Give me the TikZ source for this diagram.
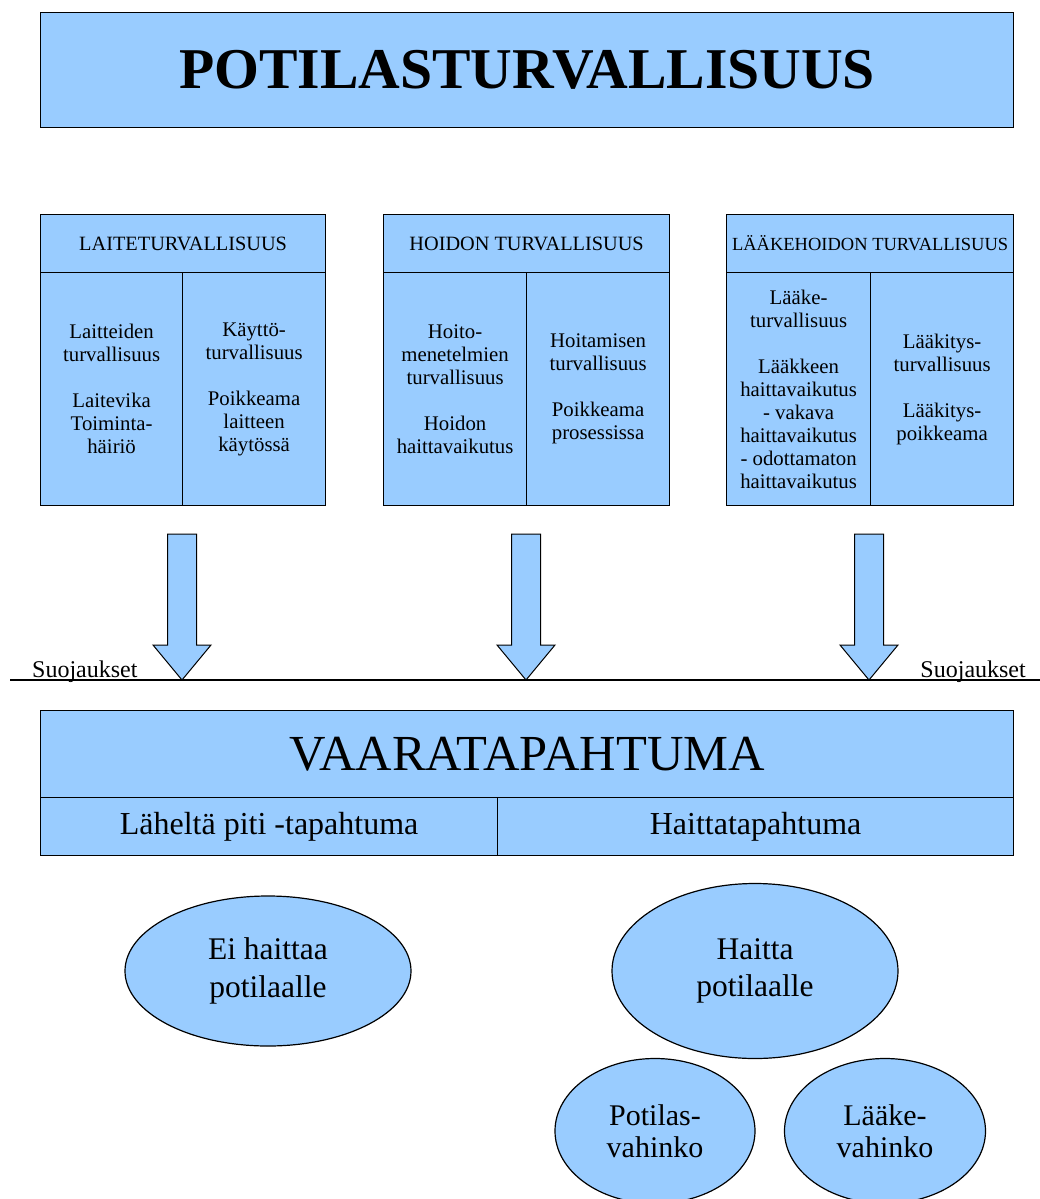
\documentclass[tikz,border=0pt]{standalone}
\usepackage{fontspec}
\setmainfont{Liberation Serif}
\usetikzlibrary{shapes.geometric}
\definecolor{boxblue}{HTML}{99CCFF}
\begin{document}
\begin{tikzpicture}[x=1pt,y=-1pt,
  cell/.style={draw=black,fill=boxblue,line width=1.2pt,inner sep=0pt,anchor=north west,align=center,
    font=\fontsize{20.8}{23}\selectfont},
  oval/.style={ellipse,draw=black,fill=boxblue,line width=1.2pt,inner sep=0pt,align=center,
    font=\fontsize{31.5}{37.5}\selectfont},
  blockarrow/.style={draw=black,fill=boxblue,line width=1pt,line join=miter},
  lbl/.style={font=\fontsize{24}{26}\selectfont,inner sep=0pt}]
\useasboundingbox (0,0) rectangle (1040,1199);
% title
\node[cell,minimum width=973pt,minimum height=115pt,font=\fontsize{57.7}{60}\selectfont\bfseries] (title) at (40,12) {POTILASTURVALLISUUS};
% box 1
\node[cell,minimum width=285pt,minimum height=58pt,font=\fontsize{20.3}{23}\selectfont] (h1) at (40,214) {LAITETURVALLISUUS};
\node[cell,minimum width=142pt,minimum height=233pt] (c1a) at (40,272) {Laitteiden\\turvallisuus\\[23pt]Laitevika\\Toiminta-\\häiriö};
\node[cell,minimum width=143pt,minimum height=233pt] (c1b) at (182,272) {Käyttö-\\turvallisuus\\[23pt]Poikkeama\\laitteen\\käytössä};
% box 2
\node[cell,minimum width=286pt,minimum height=58pt,font=\fontsize{20.3}{23}\selectfont] (h2) at (383,214) {HOIDON TURVALLISUUS};
\node[cell,minimum width=143pt,minimum height=233pt] (c2a) at (383,272) {Hoito-\\menetelmien\\turvallisuus\\[23pt]Hoidon\\haittavaikutus};
\node[cell,minimum width=143pt,minimum height=233pt] (c2b) at (526,272) {Hoitamisen\\turvallisuus\\[23pt]Poikkeama\\prosessissa};
% box 3
\node[cell,minimum width=287pt,minimum height=58pt,font=\fontsize{18.5}{23}\selectfont] (h3) at (726,214) {LÄÄKEHOIDON TURVALLISUUS};
\node[cell,minimum width=144pt,minimum height=233pt] (c3a) at (726,272) {Lääke-\\turvallisuus\\[23pt]Lääkkeen\\haittavaikutus\\- vakava\\haittavaikutus\\- odottamaton\\haittavaikutus};
\node[cell,minimum width=143pt,minimum height=233pt] (c3b) at (870,272) {Lääkitys-\\turvallisuus\\[23pt]Lääkitys-\\poikkeama};
% arrows
\foreach \cx/\nm in {182/a1,526/a2,869/a3}{
  \draw[blockarrow] (\cx-14.5,534) -- (\cx+14.5,534) -- (\cx+14.5,645) -- (\cx+29,645)
     -- (\cx,680) -- (\cx-29,645) -- (\cx-14.5,645) -- cycle;
}
% barrier line
\coordinate (lineL) at (10,680);
\coordinate (lineR) at (1040,680);
\draw[line width=1.4pt] (lineL) -- (lineR);
\node[lbl,anchor=base west] (s1) at (32,677) {Suojaukset};
\node[lbl,anchor=base east] (s2) at (1026,677) {Suojaukset};
% vaaratapahtuma
\node[cell,minimum width=973pt,minimum height=87pt,font=\fontsize{50.5}{52}\selectfont] (vt) at (40,710) {VAARATAPAHTUMA};
\node[cell,minimum width=457pt,minimum height=58pt,font=\fontsize{32}{34}\selectfont] (lp) at (40,797) {Läheltä piti -tapahtuma};
\node[cell,minimum width=516pt,minimum height=58pt,font=\fontsize{32}{34}\selectfont] (ht) at (497,797) {Haittatapahtuma};
% ellipses
\node[oval,minimum width=286pt,minimum height=150pt] (e1) at (268,971) {Ei haittaa\\potilaalle};
\node[oval,minimum width=286pt,minimum height=175pt] (e2) at (755,971) {Haitta\\potilaalle};
\node[oval,minimum width=200pt,minimum height=145pt,font=\fontsize{30}{32}\selectfont] (e3) at (655,1131) {Potilas-\\vahinko};
\node[oval,minimum width=201pt,minimum height=145pt,font=\fontsize{30}{32}\selectfont] (e4) at (885,1131) {Lääke-\\vahinko};
\end{tikzpicture}
\end{document}
